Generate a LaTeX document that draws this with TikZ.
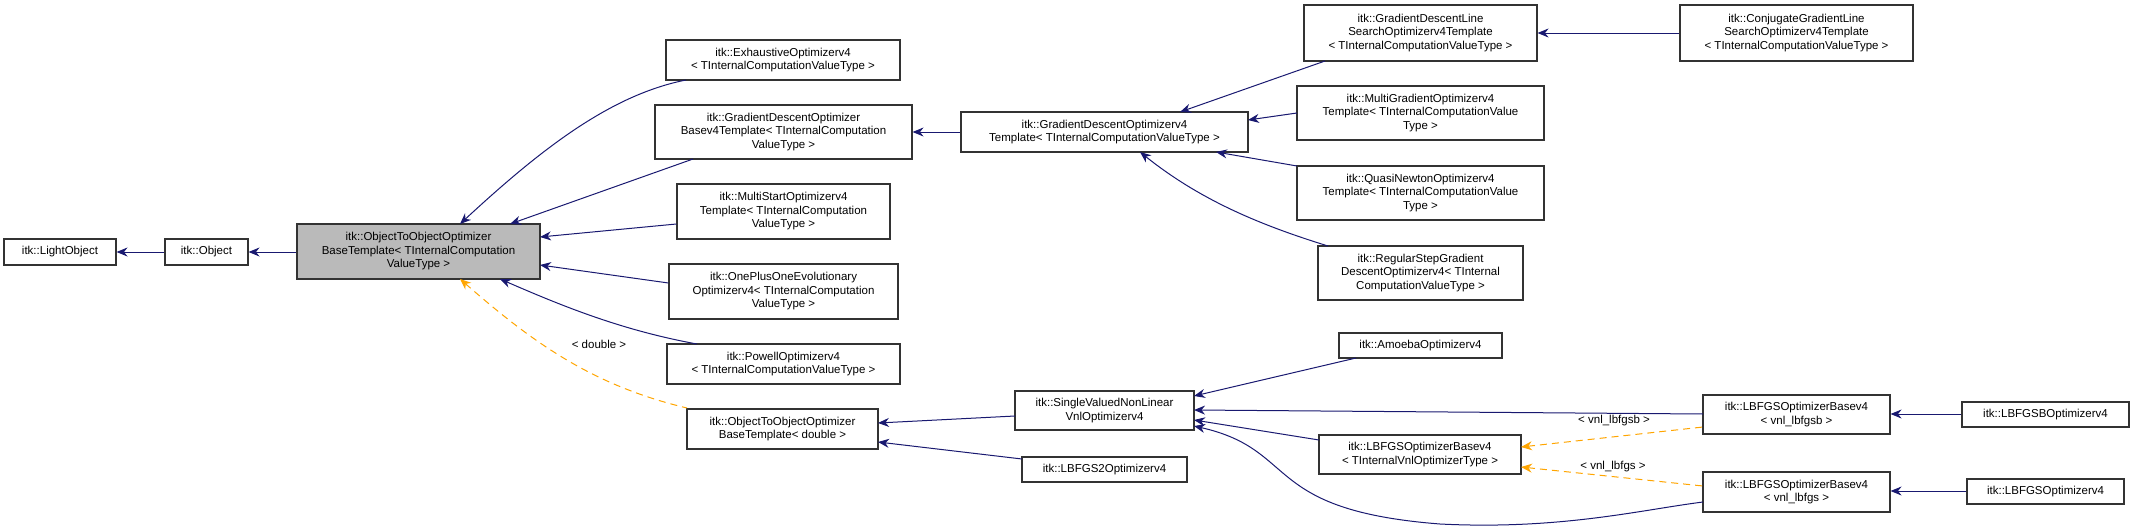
\documentclass[tikz,border=0pt]{standalone}
\usepackage{fontspec}
\setmainfont{Liberation Sans}
\usetikzlibrary{arrows.meta}
\definecolor{navy}{RGB}{25,25,112}
\definecolor{orng}{RGB}{255,165,0}
\newcommand{\bx}[7][white]{%
  \pgfmathsetmacro{\cx}{(#3+#5)/2}\pgfmathsetmacro{\cy}{-(#4+#6)/2}%
  \pgfmathsetmacro{\ww}{#5-#3}\pgfmathsetmacro{\hh}{#6-#4}%
  \node[box,fill=#1,minimum width=\ww pt,minimum height=\hh pt] (#2) at (\cx pt,\cy pt) {#7};}
\begin{document}
\begin{tikzpicture}[x=1pt,y=1pt,
  box/.style={draw=black!80,line width=1.1pt,rectangle,inner sep=0pt,align=center,
    font=\fontsize{11.5}{13.5}\selectfont},
  inh/.style={draw=navy,line width=1pt,{Stealth[length=11pt,width=9pt]}-},
  tpl/.style={draw=orng,line width=1pt,dash pattern=on 7pt off 5pt,{Stealth[length=11pt,width=9pt]}-},
  lbl/.style={font=\fontsize{11.5}{13.5}\selectfont}]
\useasboundingbox (0,0) rectangle (2135,-530);
\bx{lo}{4}{239}{116}{265}{itk::LightObject}
\bx{ob}{165}{239}{248}{265}{itk::Object}
\bx[black!27]{main}{297}{224}{540}{279}{itk::ObjectToObjectOptimizer\\BaseTemplate< TInternalComputation\\ValueType >}
\bx{ex}{666}{40}{900}{80}{itk::ExhaustiveOptimizerv4\\< TInternalComputationValueType >}
\bx{gdb}{655}{105}{912}{159}{itk::GradientDescentOptimizer\\Basev4Template< TInternalComputation\\ValueType >}
\bx{ms}{677}{184}{890}{239}{itk::MultiStartOptimizerv4\\Template< TInternalComputation\\ValueType >}
\bx{op}{669}{264}{898}{319}{itk::OnePlusOneEvolutionary\\Optimizerv4< TInternalComputation\\ValueType >}
\bx{pw}{667}{344}{900}{384}{itk::PowellOptimizerv4\\< TInternalComputationValueType >}
\bx{od}{687}{409}{878}{449}{itk::ObjectToObjectOptimizer\\BaseTemplate< double >}
\bx{gd}{961}{112}{1248}{152}{itk::GradientDescentOptimizerv4\\Template< TInternalComputationValueType >}
\bx{sv}{1015}{391}{1194}{430}{itk::SingleValuedNonLinear\\VnlOptimizerv4}
\bx{l2}{1022}{457}{1187}{482}{itk::LBFGS2Optimizerv4}
\bx{gl}{1304}{5}{1537}{61}{itk::GradientDescentLine\\SearchOptimizerv4Template\\< TInternalComputationValueType >}
\bx{cg}{1680}{5}{1913}{61}{itk::ConjugateGradientLine\\SearchOptimizerv4Template\\< TInternalComputationValueType >}
\bx{mg}{1297}{86}{1544}{140}{itk::MultiGradientOptimizerv4\\Template< TInternalComputationValue\\Type >}
\bx{qn}{1297}{166}{1544}{220}{itk::QuasiNewtonOptimizerv4\\Template< TInternalComputationValue\\Type >}
\bx{rs}{1318}{246}{1523}{300}{itk::RegularStepGradient\\DescentOptimizerv4< TInternal\\ComputationValueType >}
\bx{am}{1339}{333}{1502}{358}{itk::AmoebaOptimizerv4}
\bx{lb}{1319}{435}{1521}{474}{itk::LBFGSOptimizerBasev4\\< TInternalVnlOptimizerType >}
\bx{lbb}{1703}{395}{1890}{434}{itk::LBFGSOptimizerBasev4\\< vnl\_lbfgsb >}
\bx{lbs}{1703}{472}{1890}{512}{itk::LBFGSOptimizerBasev4\\< vnl\_lbfgs >}
\bx{bo}{1962}{402}{2129}{427}{itk::LBFGSBOptimizerv4}
\bx{so}{1967}{479}{2124}{504}{itk::LBFGSOptimizerv4}
% inheritance
\draw[inh] (lo.east) -- (ob.west);
\draw[inh] (ob.east) -- (main.west|-ob.east);
\draw[inh] (460,-224) .. controls (540,-150) and (610,-95) .. (686,-80);
\draw[inh] (510,-224) -- (693,-159);
\draw[inh] (540,-237) -- (ms.west|-0,-224);
\draw[inh] (540,-265) -- (op.west|-0,-283);
\draw[inh] (500,-279) .. controls (560,-305) and (620,-330) .. (697,-344);
\draw[tpl] (460,-279) .. controls (530,-340) and (590,-385) .. (687,-408);
\node[lbl] (dbl) at (599,-344) {< double >};
\draw[inh] (gdb.east|-0,-132) -- (gd.west|-0,-132);
\draw[inh] (1180,-112) -- (1325,-61);
\draw[inh] (1248,-120) -- (1297,-113);
\draw[inh] (1216,-152) -- (1297,-166);
\draw[inh] (1140,-152) .. controls (1200,-200) and (1260,-225) .. (1328,-246);
\draw[inh] (gl.east|-0,-33) -- (cg.west|-0,-33);
\draw[inh] (878,-423) -- (1015,-416);
\draw[inh] (878,-442) -- (1022,-459);
\draw[inh] (1194,-396) -- (1356,-358);
\draw[inh] (1194,-410) -- (1703,-414);
\draw[inh] (1194,-420) -- (1319,-440);
\draw[inh] (1194,-426) .. controls (1300,-450) and (1260,-510) .. (1440,-524) .. controls (1560,-530) and (1640,-510) .. (1703,-502);
\draw[inh] (lbb.east|-0,-414) -- (bo.west|-0,-414);
\draw[inh] (lbs.east|-0,-491) -- (so.west|-0,-491);
\draw[tpl] (1521,-447) -- (1703,-427);
\node[lbl] (lq1) at (1614,-421) {< vnl\_lbfgsb >};
\draw[tpl] (1521,-467) -- (1703,-486);
\node[lbl] (lq2) at (1613,-467) {< vnl\_lbfgs >};
\end{tikzpicture}
\end{document}
